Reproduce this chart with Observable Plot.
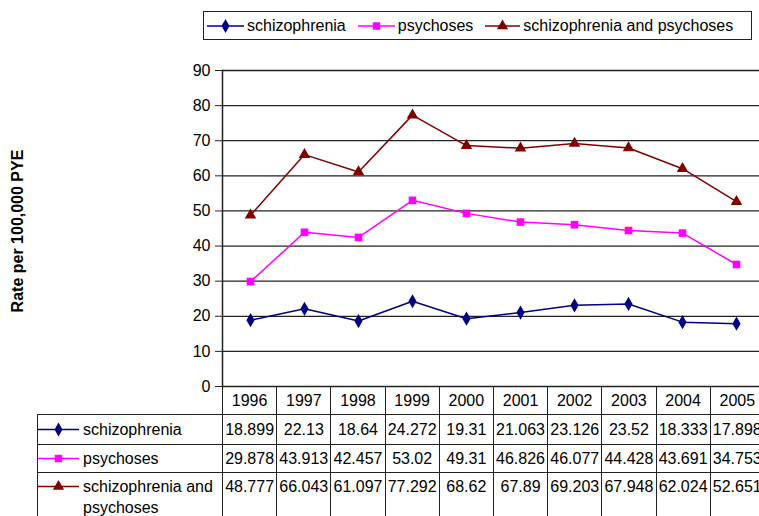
<!DOCTYPE html>
<html>
<head>
<meta charset="utf-8">
<script src="https://cdn.jsdelivr.net/npm/d3@7"></script>
<script src="https://cdn.jsdelivr.net/npm/@observablehq/plot@0.6"></script>
<style>
  body { margin: 0; background: #fff; }
  #wrap { position: relative; width: 759px; height: 516px; overflow: hidden; font-family: "Liberation Sans", Arial, sans-serif; color: #000; background: #fff; }
  #chart { position: absolute; left: 0; top: 0; }
  #legend { position: absolute; left: 203px; top: 11px; width: 547px; height: 27px; border: 1.5px solid #222; display: flex; align-items: center; font-size: 16px; }
  .item { display: flex; align-items: center; margin-right: 12px; }
  .item svg { margin-right: 3px; }
  #ytitle { position: absolute; left: 18px; top: 231px; transform: translate(-50%, -50%) rotate(-90deg); font-weight: bold; font-size: 16px; white-space: nowrap; }
  #table { position: absolute; left: 37px; top: 386px; border-collapse: collapse; font-size: 16px; table-layout: fixed; width: 727px; }
  #table td { border: 1.5px solid #222; padding: 0; text-align: center; white-space: nowrap; overflow: hidden; }
  #table td.lab { text-align: left; white-space: normal; }
  .labwrap { display: flex; align-items: flex-start; }
  .labwrap svg { flex: none; margin-right: 4px; }
</style>
</head>
<body>
<div id="wrap">
  <div id="chart"></div>
  <div id="legend"></div>
  <div id="ytitle">Rate per 100,000 PYE</div>
  <table id="table"></table>
</div>
<script>
const years = ["1996", "1997", "1998", "1999", "2000", "2001", "2002", "2003", "2004", "2005"];
const seriesNames = ["schizophrenia", "psychoses", "schizophrenia and psychoses"];
const schizophrenia = [18.899, 22.13, 18.64, 24.272, 19.31, 21.063, 23.126, 23.52, 18.333, 17.898];
const psychoses = [29.878, 43.913, 42.457, 53.02, 49.31, 46.826, 46.077, 44.428, 43.691, 34.753];
const combined = [48.777, 66.043, 61.097, 77.292, 68.62, 67.89, 69.203, 67.948, 62.024, 52.651];
const seriesValues = [schizophrenia, psychoses, combined];
const colors = ["#000080", "#FF00FF", "#800000"];
const symbols = ["diamond", "square", "triangle"];
const yTicks = [0, 10, 20, 30, 40, 50, 60, 70, 80, 90];

const data = seriesNames.flatMap((s, i) => years.map((y, j) => ({year: y, value: seriesValues[i][j], series: s})));

const chart = Plot.plot({
  width: 759, height: 400,
  marginLeft: 222, marginRight: 0, marginTop: 70, marginBottom: 14,
  style: {fontFamily: '"Liberation Sans", Arial, sans-serif', fontSize: "16px", color: "#000", background: "transparent", overflow: "visible"},
  x: {type: "point", domain: years, range: [222, 764], padding: 0.5, align: 0.5, axis: null},
  y: {domain: [0, 90], label: null},
  color: {domain: seriesNames, range: colors},
  symbol: {domain: seriesNames, range: symbols},
  marks: [
    Plot.ruleY(yTicks, {stroke: "#222", strokeWidth: 1.3}),
    Plot.axisY({ticks: yTicks, tickSize: 7, tickPadding: 5, label: null, stroke: "#222"}),
    Plot.frame({anchor: "left", stroke: "#222", strokeWidth: 1.5}),
    Plot.line(data, {x: "year", y: "value", z: "series", stroke: "series", strokeWidth: 1.5}),
    Plot.dot(data, {x: "year", y: "value", fill: "series", symbol: "series", r: 4.3, stroke: null})
  ]
});
document.getElementById("chart").appendChild(chart);

const symGen = {diamond: d3.symbolDiamond, square: d3.symbolSquare, triangle: d3.symbolTriangle};
function swatch(i, w, h) {
  const svg = d3.create("svg").attr("width", w).attr("height", h);
  svg.append("line").attr("x1", 0).attr("x2", w).attr("y1", h / 2).attr("y2", h / 2)
    .attr("stroke", colors[i]).attr("stroke-width", 1.5);
  svg.append("path").attr("d", d3.symbol(symGen[symbols[i]], 55)())
    .attr("transform", `translate(${w / 2},${h / 2})`).attr("fill", colors[i]);
  return svg.node();
}

// Legend
const legend = d3.select("#legend");
legend.append("div").style("width", "3px").style("flex", "none");
const legendLineW = [37, 37, 35];
seriesNames.forEach((s, i) => {
  const it = legend.append("div").attr("class", "item");
  it.node().appendChild(swatch(i, legendLineW[i], 14));
  it.append("span").text(s);
});

// Data table
const table = d3.select("#table");
const cg = table.append("colgroup");
cg.append("col").style("width", "185px");
years.forEach(() => cg.append("col").style("width", "54.2px"));
const hdr = table.append("tr").style("height", "28px");
hdr.append("td").style("border-top", "none").style("border-left", "none");
years.forEach(y => hdr.append("td").text(y));
const rowHeights = ["30px", "28px", "60px"];
seriesNames.forEach((s, i) => {
  const tr = table.append("tr").style("height", rowHeights[i]);
  const lab = tr.append("td").attr("class", "lab")
    .style("vertical-align", i === 2 ? "top" : "middle")
    .style("padding-top", i === 2 ? "3px" : "0");
  const wrap = lab.append("div").attr("class", "labwrap").style("line-height", "21px");
  const sw = swatch(i, 41, 21);
  wrap.node().appendChild(sw);
  wrap.append("span").text(s);
  seriesValues[i].forEach(v => tr.append("td")
    .style("vertical-align", i === 2 ? "top" : "middle")
    .style("padding-top", i === 2 ? "3px" : "0")
    .style("line-height", "21px")
    .text(String(v)));
});
</script>
</body>
</html>
